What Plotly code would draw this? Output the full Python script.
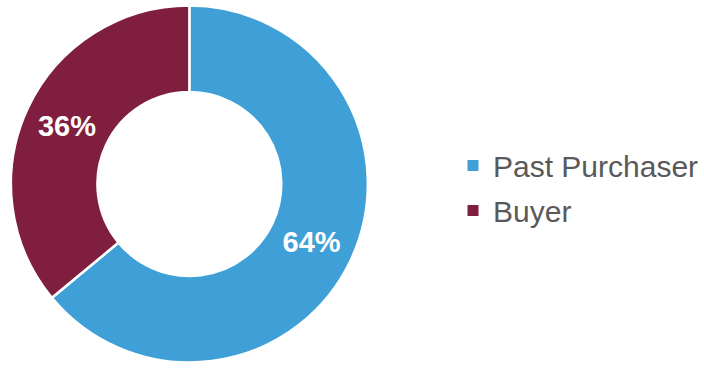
import plotly.graph_objects as go

# Share of respondents by customer type
categories = ["Past Purchaser", "Buyer"]
shares = [64, 36]
colors = ["#3FA0D8", "#801E3F"]

W, H = 704, 368
FONT = "Liberation Sans, Arial, sans-serif"

fig = go.Figure()

fig.add_trace(
    go.Pie(
        labels=categories,
        values=shares,
        hole=0.515,
        sort=False,
        direction="clockwise",
        rotation=0,
        marker=dict(colors=colors, line=dict(color="white", width=2.5)),
        texttemplate="%{percent:.0%}",
        textposition="inside",
        insidetextorientation="horizontal",
        insidetextfont=dict(family=FONT, size=29, color="white", weight="bold"),
        domain=dict(x=[11 / W, 371 / W], y=[2 / H, 1 - 2 / H]),
        hoverinfo="label+percent",
        showlegend=False,
    )
)

# Legend entries, one group per category so the rows can be spaced apart
for name, color in zip(categories, colors):
    fig.add_trace(
        go.Scatter(
            x=[None],
            y=[None],
            mode="markers",
            name=name,
            legendgroup=name,
            marker=dict(symbol="square", size=11, color=color),
            hoverinfo="skip",
        )
    )

fig.update_layout(
    width=W,
    height=H,
    margin=dict(l=0, r=0, t=0, b=0),
    paper_bgcolor="white",
    plot_bgcolor="white",
    xaxis=dict(visible=False),
    yaxis=dict(visible=False),
    showlegend=True,
    legend=dict(
        x=457 / W,
        y=1 - 188 / H,
        xanchor="left",
        yanchor="middle",
        tracegroupgap=3,
        font=dict(family=FONT, size=30, color="#595959"),
        bgcolor="rgba(0,0,0,0)",
    ),
)

fig.write_html("out.html")
